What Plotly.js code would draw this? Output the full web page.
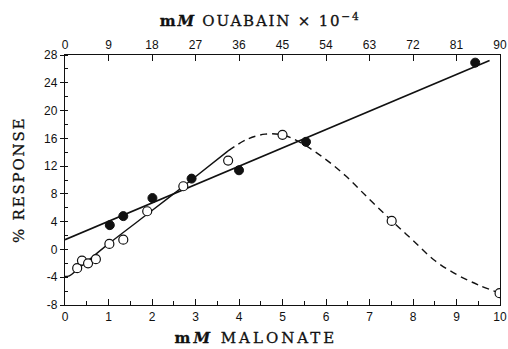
<!DOCTYPE html>
<html>
<head>
<meta charset="utf-8">
<script src="https://cdn.plot.ly/plotly-3.0.1.min.js"></script>
<style>
html,body{margin:0;padding:0;background:#fff}
#chart{width:508px;height:349px}
#chart .annotation-text{letter-spacing:1.8px; stroke:#111; stroke-width:0.3px}
#chart .annotation[data-index="0"] .annotation-text{letter-spacing:3px}
</style>
</head>
<body>
<div id="chart"></div>
<script>
// Filled circles (data points)
const filledX = [1.03, 1.34, 2.01, 2.91, 4.0, 5.54, 9.43];
const filledY = [3.5, 4.8, 7.4, 10.2, 11.4, 15.5, 26.9];
// Open circles (data points)
const openX = [0.28, 0.39, 0.53, 0.71, 1.02, 1.34, 1.89, 2.72, 3.75, 5.0, 7.51, 9.99];
const openY = [-2.7, -1.6, -2.0, -1.4, 0.8, 1.4, 5.5, 9.1, 12.8, 16.5, 4.1, -6.3];
// Fitted solid line through filled circles (end points)
const fillLineX = [0, 9.76];
const fillLineY = [1.4, 27.2];
// Solid curve through open circles
const openSolidX = [0, 0.1, 0.3, 1.0, 2.0, 2.7, 3.75];
const openSolidY = [-3.9, -3.8, -2.8, 0.8, 5.6, 9.0, 14.2];
// Dashed curve continuation
const openDashX = [3.75, 4.2, 4.6, 5.0, 5.35, 5.9, 6.45, 7.0, 7.5, 8.0, 8.5, 9.0, 9.5, 10.0];
const openDashY = [14.2, 15.9, 16.6, 16.5, 15.6, 13.4, 10.6, 7.2, 4.2, 1.3, -1.6, -3.6, -5.1, -6.3];
// Tick labels
const malonateTicks = [0,1,2,3,4,5,6,7,8,9,10];
const ouabainTicks = [0,9,18,27,36,45,54,63,72,81,90];
const responseTicks = [-8,-4,0,4,8,12,16,20,24,28];
// Titles
const bottomTitle = '<b>m<i>M</i></b> MALONATE';
const topTitle = '<b>m<i>M</i></b> OUABAIN × 10<sup>−4</sup>';
const leftTitle = '% RESPONSE';

const tickFont = {family: 'Liberation Sans, Arial, sans-serif', size: 12, color: '#111'};
const titleFont = {family: 'DejaVu Serif, Liberation Serif, serif', size: 15, color: '#111'};

const traces = [
  {x: fillLineX, y: fillLineY, mode: 'lines', line: {color: '#111', width: 1.6}, xaxis: 'x', yaxis: 'y', hoverinfo: 'skip'},
  {x: openSolidX, y: openSolidY, mode: 'lines', line: {color: '#111', width: 1.4, shape: 'spline'}, xaxis: 'x', yaxis: 'y', hoverinfo: 'skip'},
  {x: openDashX, y: openDashY, mode: 'lines', line: {color: '#111', width: 1.4, dash: '7px,5px', shape: 'spline'}, xaxis: 'x', yaxis: 'y', hoverinfo: 'skip'},
  {x: filledX, y: filledY, mode: 'markers', marker: {color: '#111', size: 9, line: {color: '#111', width: 1}}, xaxis: 'x', yaxis: 'y'},
  {x: openX, y: openY, mode: 'markers', marker: {color: '#fff', size: 9, line: {color: '#111', width: 1.2}}, xaxis: 'x', yaxis: 'y'},
  {x: ouabainTicks, y: ouabainTicks.map(() => null), mode: 'markers', marker: {opacity: 0}, xaxis: 'x2', yaxis: 'y', hoverinfo: 'skip'}
];

const layout = {
  width: 508, height: 349,
  margin: {l: 65, r: 8, t: 55, b: 44},
  paper_bgcolor: '#fff', plot_bgcolor: '#fff',
  showlegend: false,
  xaxis: {
    range: [0, 10], tickvals: malonateTicks, ticktext: malonateTicks.map(String),
    ticks: 'inside', ticklen: 6, tickcolor: '#111', tickwidth: 1,
    minor: {tickvals: [0.5,1.5,2.5,3.5,4.5,5.5,6.5,7.5,8.5,9.5], ticks: 'inside', ticklen: 4, tickcolor: '#111'},
    showline: true, linecolor: '#111', linewidth: 1.2, showgrid: false, zeroline: false,
    tickfont: tickFont
  },
  xaxis2: {
    range: [0, 90], overlaying: 'x', side: 'top', anchor: 'y',
    tickvals: ouabainTicks, ticktext: ouabainTicks.map(String),
    ticks: 'inside', ticklen: 6, tickcolor: '#111',
    showline: true, linecolor: '#111', linewidth: 1.2, showgrid: false, zeroline: false,
    tickfont: tickFont
  },
  yaxis: {
    range: [-8, 28], tickvals: responseTicks, ticktext: responseTicks.map(String),
    ticks: 'outside', ticklen: 4, tickcolor: '#111',
    minor: {dtick: 2, ticks: 'inside', ticklen: 3, tickcolor: '#111'},
    showline: true, mirror: true, linecolor: '#111', linewidth: 1.2, showgrid: false, zeroline: false,
    tickfont: tickFont
  },
  annotations: [
    {text: bottomTitle, xref: 'paper', yref: 'paper', x: 0.44, y: -0.132, xanchor: 'center', yanchor: 'middle', showarrow: false, font: titleFont},
    {text: topTitle, xref: 'paper', yref: 'paper', x: 0.448, y: 1.14, xanchor: 'center', yanchor: 'middle', showarrow: false, font: titleFont},
    {text: leftTitle, xref: 'paper', yref: 'paper', x: -0.1057, y: 0.5, xanchor: 'center', yanchor: 'middle', textangle: -90, showarrow: false, font: titleFont}
  ]
};

Plotly.newPlot('chart', traces, layout, {staticPlot: true, displayModeBar: false});
</script>
</body>
</html>
